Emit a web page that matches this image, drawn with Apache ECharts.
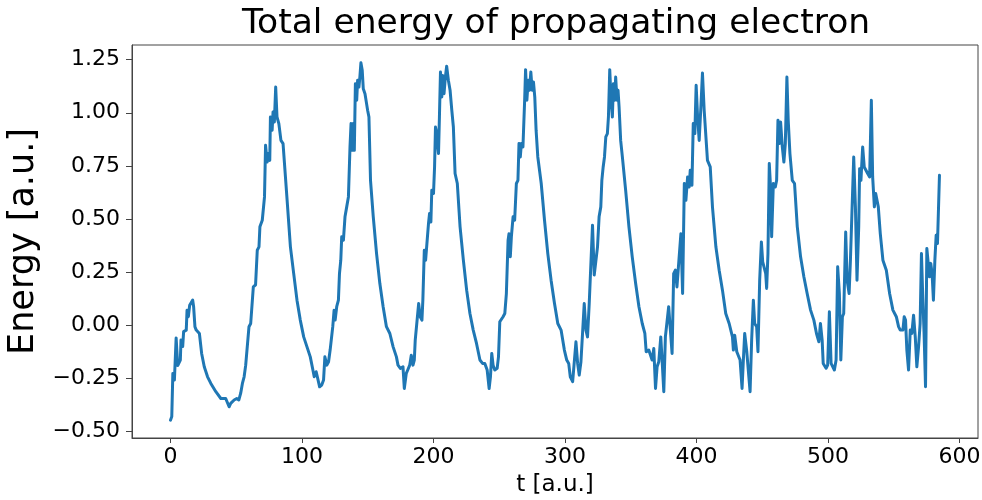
<!DOCTYPE html>
<html>
<head>
<meta charset="utf-8">
<script src="https://cdn.jsdelivr.net/npm/echarts@6/dist/echarts.min.js"></script>
<style>
html,body{margin:0;padding:0;background:#fff;}
#chart{width:982px;height:500px;}
</style>
</head>
<body>
<div id="chart"></div>
<script>
const titleText = 'Total energy of propagating electron';
const xName = 't [a.u.]';
const yName = 'Energy [a.u.]';
const xTicks = [0, 100, 200, 300, 400, 500, 600];
const yTicks = [-0.5, -0.25, 0, 0.25, 0.5, 0.75, 1.0, 1.25];

const tValues = [
0,1,1.8,3,4.3,5.5,7.5,8,9.3,10,12,12.6,13.6,14.6,15.6,16.9,17.6,18.6,19.6,22,23.7,25.7,28.2,30.7,34.5,38.3,42,44.6,45.8,48.4,50.4,52,53.4,54.7,56,57.2,58.4,59.7,61,62.2,63,64.7,66,67.3,68,69.8,71,71.5,72.3,73.5,74.3,75.5,76,77.3,78,79,80,81,82.4,84,85.6,88.7,91.2,93.7,96.2,98.7,
101.3,103.8,106.3,108.3,109.3,110.8,111.8,113.4,115,116.4,117.4,118.9,120.2,121.4,122.7,123.4,124.4,125.2,126.4,127.7,128.5,129.5,130.2,131.5,132.7,134,135.3,136.5,137.3,138.3,139,139.8,140.6,141.6,142.3,143.3,144,144.8,145.8,146.6,147.9,149.1,149.9,150.9,152.1,154.2,156.7,159.2,161.7,164.2,166.8,169.3,171.8,173,
174.8,176.8,177.8,179.3,180.4,181.9,183.1,184.4,185.4,186.1,187.4,188.7,189.9,191.2,191.9,193,194,195,196.2,197,198,198.7,200,200.8,201.5,202.5,203.3,203.8,204.5,205.3,206.3,207,208,209,210,211.3,212.6,213.9,215.1,216.4,218.1,220.2,222.7,225.2,227.7,230.2,232.7,235.3,237.3,239,240.8,242.3,243.3,244.3,245.3,246.6,248.4,249.4,
250.4,251.6,252.9,254.2,255.4,256.7,257.4,258.4,259.2,260.5,261.7,263,264.2,265,266,266.8,268,269.3,270,271,272,273,274,275,276,277,278,279.3,281.9,284.4,286.9,289.4,292,294.5,297,299.5,301.3,302.8,304,305.8,307,308.3,309.6,310.8,312.1,313.4,314.6,315.9,317.1,318.4,319.6,320.9,322.2,323.4,324.7,325.9,327.2,328,329,330,331,332.2,333,334,335,336,336.8,337.8,338.5,339.5,340.3,341.1,342.3,343.6,346.1,348.6,
351.1,353.7,356.2,358.7,360.7,361.7,363.7,365,366.2,367.5,368.8,370,371.3,372.8,373.8,375.1,376.3,377.6,378.8,380.1,381.4,382.6,383.9,385.1,388.1,389.4,390.7,391.9,393.2,394.4,395.2,396.5,397.5,398.7,399.7,400.8,402,403.3,404.5,405.8,407,408.3,410.4,412.1,414.7,417.2,419.7,422.2,424.8,427.3,428,429,430.6,431.6,433.1,434.6,435.6,436.6,438.2,439.4,440.7,441.9,443.2,444.2,445.7,446.7,448,449.3,450.3,451.3,452.6,453.3,454.3,455.3,456.4,457.1,458.4,459.9,460.9,461.9,462.9,463.9,465.2,466.4,467.5,468.7,469.7,471,472.8,474.5,476.6,479.1,481.6,484.1,486.7,489.2,491.2,493,494.2,495.5,496.3,497.5,498.5,499.7,
501,502.3,503.5,504.8,506.1,507.3,508.6,509.7,510.9,511.9,513.4,514.5,516,517,518.2,519.5,520.8,522,523.3,524,525,526.3,527.5,529,530.1,531.6,532.9,533.9,535.2,536.2,537.2,538.2,539.7,541.7,544.3,546.8,549.3,551.9,553.6,554.9,556.9,557.9,558.9,559.9,561.2,562.5,563.7,565,566.3,567.5,568.8,570,571,572,573,574.1,575.1,576.1,577.1,578.1,579.1,580.1,581.2,582.2,583.2,584.7
];

const energy = [
-0.447,-0.43,-0.227,-0.258,-0.06,-0.19,-0.164,-0.07,-0.10,-0.03,-0.023,0.07,0.04,0.094,0.087,0.118,0.087,-0.007,-0.023,-0.039,-0.133,-0.196,-0.243,-0.274,-0.313,-0.345,-0.345,-0.384,-0.368,-0.352,-0.345,-0.352,-0.32,-0.274,-0.243,-0.188,-0.18,-0.007,0.008,0.008,0.18,0.19,0.353,0.369,0.463,0.494,0.486,0.604,0.847,0.768,0.808,0.776,0.98,0.918,1.004,0.957,1.121,0.98,0.949,0.87,0.855,0.588,0.369,0.243,0.118,0.024,
-0.055,-0.102,-0.149,-0.211,-0.243,-0.219,-0.227,-0.29,-0.282,-0.258,-0.149,-0.188,-0.172,-0.117,-0.125,-0.007,0.07,0.024,0.087,0.118,0.243,0.306,0.416,0.40,0.51,0.557,0.604,0.839,0.949,0.823,0.949,0.823,1.137,1.059,1.153,1.121,1.168,1.235,1.20,1.113,1.09,1.043,1.012,0.98,0.682,0.51,0.337,0.196,0.087,-0.007,-0.039,-0.102,-0.149,-0.188,
-0.203,-0.196,-0.298,-0.227,-0.211,-0.188,-0.141,-0.188,-0.164,-0.07,-0.062,0.102,0.04,0.024,0.118,0.353,0.306,0.385,0.479,0.526,0.486,0.635,0.62,0.745,0.933,0.902,0.839,0.808,0.98,1.192,1.074,1.176,1.09,1.168,1.219,1.153,1.106,1.012,0.933,0.714,0.667,0.463,0.306,0.165,0.055,-0.023,-0.086,-0.164,-0.18,-0.18,-0.211,-0.298,-0.243,-0.133,-0.188,-0.211,-0.203,-0.149,
0.016,0.024,0.04,0.055,0.149,0.40,0.431,0.322,0.416,0.51,0.494,0.667,0.682,0.855,0.792,0.855,0.839,1.059,1.203,1.059,1.153,1.106,1.192,1.106,1.145,1.074,0.918,0.792,0.667,0.494,0.337,0.212,0.102,0.008,-0.023,-0.117,-0.164,-0.18,-0.243,-0.266,-0.274,-0.078,-0.18,-0.235,-0.172,-0.18,0.102,-0.023,-0.055,0.102,0.102,0.471,0.236,0.243,0.369,0.51,0.557,0.682,0.745,0.792,0.886,0.902,0.98,1.203,1.059,0.98,1.137,1.059,1.168,1.059,1.106,1.027,0.87,0.792,0.635,0.463,
0.322,0.196,0.087,0.008,-0.039,-0.125,-0.117,-0.117,-0.164,-0.11,-0.298,-0.196,-0.172,-0.055,-0.164,-0.313,-0.055,-0.055,0.087,0.087,-0.133,0.243,0.259,0.18,0.431,0.149,0.667,0.588,0.698,0.651,0.729,0.659,0.949,0.902,1.129,0.98,0.87,1.027,1.187,1.012,1.02,0.776,0.745,0.557,0.369,0.259,0.165,0.055,0.008,-0.055,-0.117,-0.047,-0.125,-0.117,-0.164,-0.298,-0.164,-0.039,-0.125,-0.133,-0.313,-0.07,0.118,0.008,-0.007,-0.125,0.212,0.392,0.298,0.306,0.243,0.173,0.337,0.761,0.635,0.416,0.667,0.651,0.682,0.965,0.855,0.957,0.839,0.768,0.855,1.168,0.965,0.808,0.682,0.667,0.463,0.322,0.228,0.149,0.071,0.024,-0.039,-0.078,0.008,-0.07,-0.18,-0.172,-0.203,-0.188,
0.063,-0.18,-0.188,-0.211,-0.164,0.275,0.149,-0.164,0.04,0.055,0.439,0.212,0.149,0.306,0.306,0.792,0.557,0.212,0.463,0.737,0.682,0.839,0.745,0.753,0.714,0.698,1.059,0.698,0.557,0.62,0.627,0.557,0.431,0.306,0.259,0.149,0.071,0.04,-0.007,-0.023,-0.023,0.04,0.024,-0.117,-0.211,-0.023,-0.039,0.047,-0.055,-0.196,-0.102,0.008,0.337,0.133,-0.039,-0.29,0.361,0.353,0.228,0.291,0.243,0.118,0.306,0.424,0.385,0.706
];

const seriesData = tValues.map((t, i) => [t, energy[i]]);
const FONT = 'DejaVu Sans';
const fmtY = v => (v < 0 ? '\u2212' : '') + Math.abs(v).toFixed(2);

const chart = echarts.init(document.getElementById('chart'), null, {renderer: 'canvas'});
chart.setOption({
  animation: false,
  backgroundColor: '#ffffff',
  title: {
    text: titleText,
    left: 556,
    top: 7,
    padding: 0,
    textAlign: 'center',
    textStyle: {fontFamily: FONT, fontSize: 34.5, fontWeight: 'normal', color: '#000'}
  },
  grid: {
    left: 132, right: 4, top: 45, bottom: 62,
    show: true, borderColor: '#444', borderWidth: 1, backgroundColor: '#fff',
    outerBoundsMode: 'none'
  },
  xAxis: {
    type: 'value',
    min: -29.25, max: 614,
    name: xName,
    nameLocation: 'middle',
    nameGap: 36,
    nameTextStyle: {fontFamily: FONT, fontSize: 23, color: '#000'},
    axisLine: {show: true, onZero: false, lineStyle: {color: '#444', width: 1}},
    splitLine: {show: false},
    axisTick: {show: true, inside: false, length: 5, customValues: xTicks, lineStyle: {color: '#444', width: 1}},
    axisLabel: {customValues: xTicks, margin: 8, fontFamily: FONT, fontSize: 22, color: '#000', formatter: v => String(v)}
  },
  yAxis: {
    type: 'value',
    min: -0.531, max: 1.319,
    name: yName,
    nameLocation: 'middle',
    nameGap: 88,
    nameRotate: 90,
    nameTextStyle: {fontFamily: FONT, fontSize: 35, color: '#000'},
    axisLine: {show: true, onZero: false, lineStyle: {color: '#444', width: 1}},
    splitLine: {show: false},
    axisTick: {show: true, inside: false, length: 6, customValues: yTicks, lineStyle: {color: '#444', width: 1}},
    axisLabel: {customValues: yTicks, margin: 12, fontFamily: FONT, fontSize: 22, color: '#000', formatter: fmtY}
  },
  series: [{
    type: 'line',
    data: seriesData,
    showSymbol: false,
    symbol: 'none',
    smooth: false,
    lineStyle: {color: '#1f77b4', width: 3, join: 'round', cap: 'round'},
    itemStyle: {color: '#1f77b4'}
  }]
});
</script>
</body>
</html>
